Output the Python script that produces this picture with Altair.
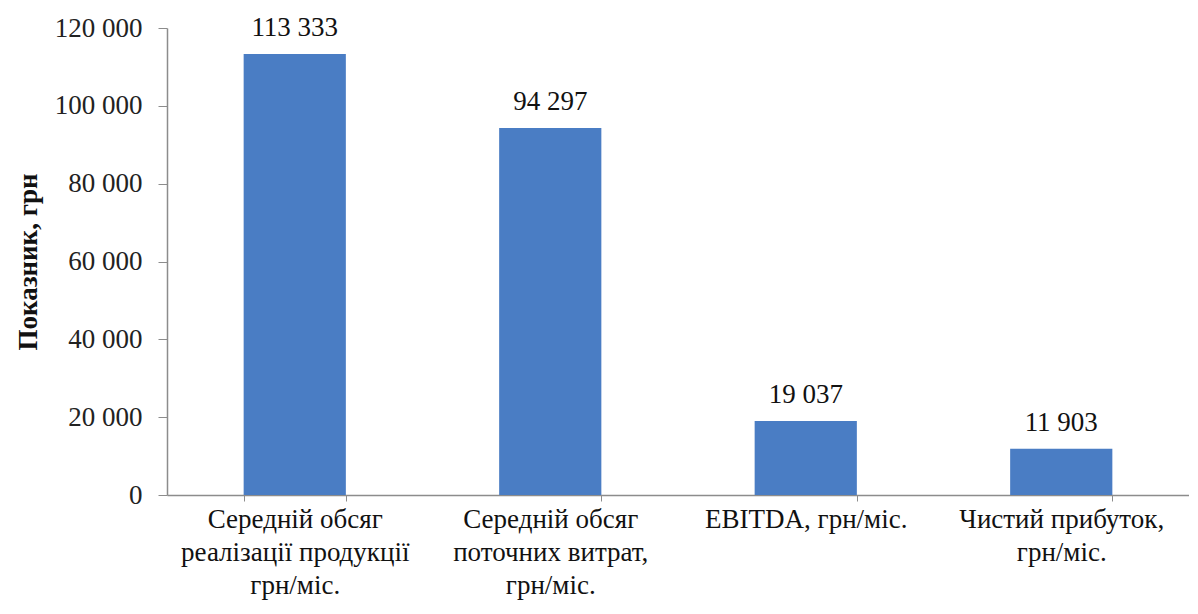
import altair as alt
import pandas as pd

categories = [
    "Середній обсяг|реалізації продукції|грн/міс.",
    "Середній обсяг|поточних витрат,|грн/міс.",
    "EBITDA, грн/міс.",
    "Чистий прибуток,|грн/міс.",
]
values = [113333, 94297, 19037, 11903]
y_ticks = [0, 20000, 40000, 60000, 80000, 100000, 120000]

df = pd.DataFrame({"cat": categories, "val": values})

FONT = "Liberation Serif"
FS = 27
BAR = "#4A7DC4"
AX = "#8c8c8c"

x_enc = alt.X(
    "cat:N",
    sort=categories,
    scale=alt.Scale(paddingInner=0.6, paddingOuter=0.3),
    axis=alt.Axis(
        title=None,
        labelAngle=0,
        labelExpr="isValid(datum.value) ? split(datum.value, '|') : ''",
        labelFont=FONT,
        labelFontSize=FS,
        labelColor="#111111",
        labelLineHeight=33,
        labelPadding=5,
        labelBaseline="top",
        labelLimit=0,
        domainColor=AX,
        domainWidth=1.5,
        tickColor=AX,
        tickSize=6,
        tickBand="extent",
        grid=False,
    ),
)

y_enc = alt.Y(
    "val:Q",
    scale=alt.Scale(domain=[0, 120000], nice=False),
    axis=alt.Axis(
        title="Показник, грн",
        titleFont=FONT,
        titleFontSize=FS,
        titleFontWeight="bold",
        titleColor="#111111",
        titlePadding=12,
        values=y_ticks,
        labelExpr="replace(format(datum.value, ','), regexp(',', 'g'), ' ')",
        labelFont=FONT,
        labelFontSize=FS,
        labelColor="#222222",
        labelPadding=16,
        domainColor=AX,
        domainWidth=1.5,
        tickColor=AX,
        tickSize=9,
        grid=False,
    ),
)

bars = alt.Chart(df).mark_bar(color=BAR).encode(x=x_enc, y=y_enc)

text = (
    alt.Chart(df)
    .transform_calculate(lbl="replace(format(datum.val, ','), regexp(',', 'g'), ' ')")
    .mark_text(font=FONT, fontSize=FS, color="#111111", baseline="alphabetic", dy=-18)
    .encode(x=alt.X("cat:N", sort=categories), y="val:Q", text="lbl:N")
)

chart = (
    alt.layer(bars, text)
    .properties(
        width=1022,
        height=467,
        padding={"left": 159, "top": 20, "right": 0, "bottom": 110},
        autosize=alt.AutoSizeParams(type="none"),
        background="white",
    )
    .configure_view(stroke=None)
)

chart.save("out.html", embed_options={"renderer": "svg", "actions": False})
